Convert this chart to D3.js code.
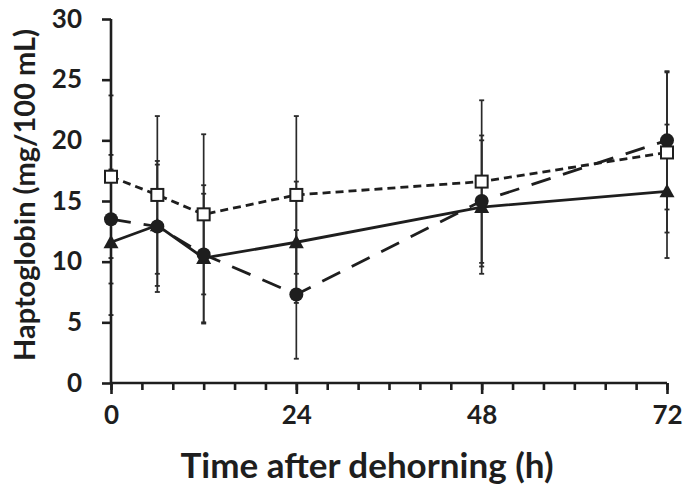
<!DOCTYPE html>
<html>
<head>
<meta charset="utf-8">
<script src="https://cdn.jsdelivr.net/npm/d3@7"></script>
<style>
  html, body { margin: 0; padding: 0; background: #fff; }
  svg { display: block; }
</style>
</head>
<body>
<svg id="chart" width="685" height="488"></svg>
<script>
// ---- data ----
const hours = [0, 6, 12, 24, 48, 72];
const squareMean   = [17.0, 15.5, 13.9, 15.5, 16.6, 19.0];
const squareSD     = [6.7, 6.5, 6.6, 6.5, 6.7, 6.6];
const circleMean   = [13.5, 12.9, 10.6, 7.3, 15.0, 20.0];
const circleSD     = [5.3, 5.4, 5.7, 5.3, 5.4, 5.7];
const triangleMean = [11.6, 13.0, 10.3, 11.6, 14.5, 15.8];
const triangleSD   = [6.0, 5.0, 5.3, 5.0, 5.5, 5.5];
const yTickValues = [0, 5, 10, 15, 20, 25, 30];
const xMajorTicks = [0, 24, 48, 72];
const xMinorTicks = [0, 4, 8, 12, 16, 20, 24, 28, 32, 36, 40, 44, 48, 52, 56, 60, 64, 68, 72];
const xTitle = "Time after dehorning (h)";
const yTitle = "Haptoglobin (mg/100 mL)";

// ---- layout ----
const svg = d3.select("#chart");
const ink = "#1e1e1e";
const x = d3.scaleLinear().domain([0, 72]).range([111, 667]);
const y = d3.scaleLinear().domain([0, 30]).range([383, 19]);
const font = "Lato, 'Open Sans', sans-serif";

const series = [
  { mean: triangleMean, sd: triangleSD, shape: "triangle", dash: null },
  { mean: circleMean, sd: circleSD, shape: "circle", dash: "20,13" },
  { mean: squareMean, sd: squareSD, shape: "square", dash: "8,5" }
];

// error bars
const gErr = svg.append("g");
series.forEach(s => {
  hours.forEach((h, i) => {
    const hi = s.mean[i] + s.sd[i], lo = s.mean[i] - s.sd[i];
    gErr.append("line")
      .attr("x1", x(h)).attr("x2", x(h))
      .attr("y1", y(hi)).attr("y2", y(lo))
      .attr("stroke", "#2a2a2a").attr("stroke-width", 1.7);
    [hi, lo].forEach(v => {
      gErr.append("line")
        .attr("x1", x(h) - 2.5).attr("x2", x(h) + 2.5)
        .attr("y1", y(v)).attr("y2", y(v))
        .attr("stroke", "#2a2a2a").attr("stroke-width", 1.8);
    });
  });
});

// axes
const yAxis = d3.axisLeft(y).tickValues(yTickValues).tickSize(9).tickPadding(20);
const gy = svg.append("g").attr("transform", `translate(${x(0)},0)`).call(yAxis);
const xMinor = d3.axisBottom(x).tickValues(xMinorTicks).tickSize(7).tickFormat("");
const gxm = svg.append("g").attr("transform", `translate(0,${y(0)})`).call(xMinor);
const xMajor = d3.axisBottom(x).tickValues(xMajorTicks).tickSize(11).tickPadding(12);
const gx = svg.append("g").attr("transform", `translate(0,${y(0)})`).call(xMajor);
[gy, gxm, gx].forEach(g => {
  g.select(".domain").attr("stroke", ink).attr("stroke-width", 2.6);
  g.selectAll(".tick line").attr("stroke", ink).attr("stroke-width", 2.6);
  g.selectAll(".tick text").attr("fill", ink)
    .style("font-family", font).style("font-weight", 700).style("font-size", "26px");
});
gy.select(".domain").attr("d", `M0,${y(30)}V${y(0)}`);
gx.select(".domain").attr("d", `M${x(0)},0H${x(72)}`);
gxm.select(".domain").remove();

// lines
const lineGen = d3.line().x((d, i) => x(hours[i])).y(d => y(d));
series.forEach(s => {
  svg.append("path").datum(s.mean)
    .attr("d", lineGen)
    .attr("fill", "none").attr("stroke", ink).attr("stroke-width", 2.8)
    .attr("stroke-dasharray", s.dash);
});

// markers
series.forEach(s => {
  const g = svg.append("g");
  s.mean.forEach((v, i) => {
    const cx = x(hours[i]), cy = y(v);
    if (s.shape === "circle") {
      g.append("circle").attr("cx", cx).attr("cy", cy).attr("r", 7).attr("fill", ink);
    } else if (s.shape === "square") {
      g.append("rect").attr("x", cx - 6).attr("y", cy - 6).attr("width", 12).attr("height", 12)
        .attr("fill", "#fff").attr("stroke", ink).attr("stroke-width", 2);
    } else {
      g.append("path").attr("d", `M${cx},${cy - 7.5}L${cx + 7.5},${cy + 6}L${cx - 7.5},${cy + 6}Z`)
        .attr("fill", ink);
    }
  });
});

// titles
svg.append("text").attr("x", 367).attr("y", 478).attr("text-anchor", "middle")
  .attr("fill", ink).style("font-family", font).style("font-weight", 700).style("font-size", "35px")
  .text(xTitle);
svg.append("text").attr("transform", `translate(35,195) rotate(-90)`)
  .attr("text-anchor", "middle").attr("fill", ink)
  .style("font-family", font).style("font-weight", 700).style("font-size", "29px")
  .text(yTitle);
</script>
</body>
</html>
